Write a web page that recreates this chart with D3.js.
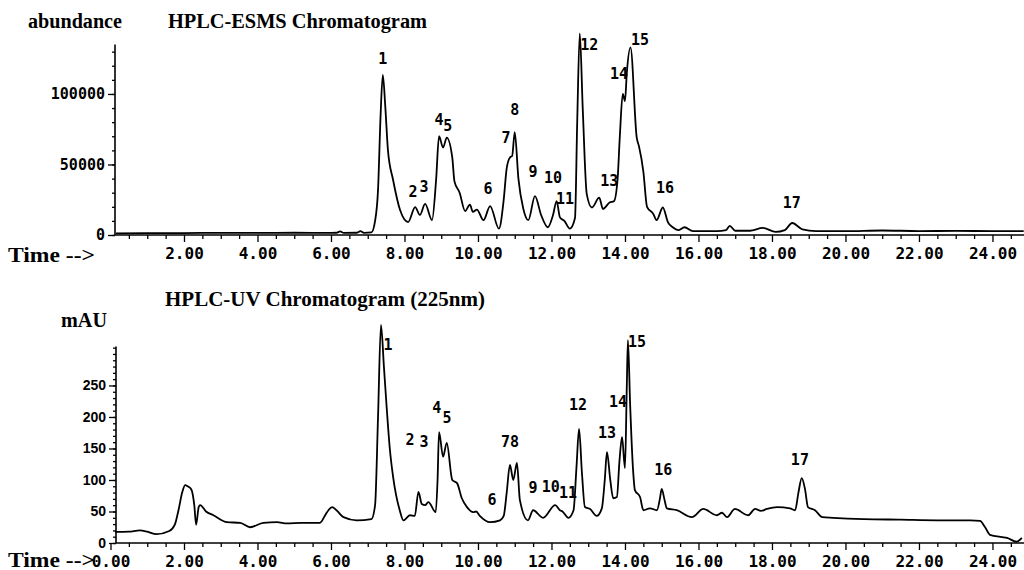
<!DOCTYPE html>
<html>
<head>
<meta charset="utf-8">
<script src="https://cdn.jsdelivr.net/npm/d3@7"></script>
<style>
body { margin: 0; background: #fff; }
</style>
</head>
<body>
<div id="chart"></div>
<script>
const WIDTH = 1024
const HEIGHT = 570

// HPLC-ESMS trace (time in min, abundance)
const msTime = [0.15, 1.0, 2.0, 3.0, 4.0, 5.0, 6.0, 6.15, 6.25, 6.35, 6.7, 6.8, 6.9, 7.1, 7.2, 7.28, 7.35, 7.41, 7.48, 7.55,
  7.69, 7.88, 8.1, 8.29, 8.42, 8.56, 8.75, 8.86, 8.94, 9.05, 9.15, 9.3, 9.36, 9.5, 9.65, 9.78, 9.86, 9.97, 10.15, 10.33,
  10.57, 10.7, 10.78, 10.87, 10.93, 11.0, 11.1, 11.23, 11.37, 11.55, 11.72, 11.9, 12.04, 12.14, 12.23, 12.35, 12.5, 12.64,
  12.7, 12.77, 12.85, 12.96, 13.1, 13.3, 13.4, 13.58, 13.7, 13.8, 13.86, 13.94, 14.0, 14.05, 14.15, 14.32, 14.38, 14.5,
  14.6, 14.77, 14.86, 15.03, 15.17, 15.3, 15.45, 15.62, 15.85, 16.5, 16.75, 16.85, 17.0, 17.4, 17.75, 18.1, 18.35, 18.55,
  18.83, 19.2, 20.0, 21.0, 22.0, 23.0, 24.0, 24.85]
const msAbundance = [1200, 1300, 1400, 1500, 1500, 1600, 1500, 1600, 2500, 1500, 1600, 2800, 1500, 1800, 10000, 32000, 85000, 113500, 90000, 60000,
  39000, 17700, 9200, 19800, 14200, 22000, 10600, 39000, 70000, 62000, 69000, 55000, 38000, 30000, 17000, 21500, 16500, 18000, 10500, 20500,
  4500, 25000, 47000, 55000, 56000, 73000, 40000, 19000, 10500, 27500, 14000, 5500, 14000, 24000, 12500, 10000, 4500, 12000,
  80000, 143000, 90000, 29000, 19500, 26500, 18500, 23000, 24000, 40000, 70000, 100000, 95000, 115000, 133000, 69000, 63000, 45000,
  20000, 15000, 10500, 19500, 9000, 5500, 3500, 5500, 2800, 2800, 3500, 6500, 3000, 3000, 5000, 2200, 3500, 8500,
  4000, 2800, 2700, 3200, 2800, 2900, 2800, 2800]

// HPLC-UV trace (time in min, mAU)
const uvTime = [0.12, 0.5, 0.8, 1.0, 1.25, 1.6, 1.75, 1.85, 1.95, 2.03, 2.1, 2.2, 2.28, 2.33, 2.4, 2.44, 2.6, 2.8, 3.17, 3.53,
  3.8, 4.16, 4.53, 4.8, 5.2, 5.7, 5.85, 5.93, 6.03, 6.15, 6.34, 6.7, 7.1, 7.2, 7.28, 7.36, 7.44, 7.52, 7.6, 7.69,
  7.87, 7.97, 8.15, 8.28, 8.38, 8.47, 8.56, 8.65, 8.85, 8.9, 8.94, 9.05, 9.15, 9.3, 9.43, 9.56, 9.7, 9.87, 9.95, 10.05,
  10.33, 10.6, 10.7, 10.78, 10.87, 10.96, 11.06, 11.14, 11.36, 11.5, 11.77, 12.1, 12.23, 12.3, 12.46, 12.6, 12.68, 12.75, 12.83, 12.91,
  13.05, 13.23, 13.37, 13.45, 13.51, 13.6, 13.68, 13.78, 13.85, 13.92, 14.0, 14.05, 14.08, 14.14, 14.22, 14.27, 14.41, 14.5, 14.68, 14.87,
  14.95, 15.0, 15.07, 15.14, 15.41, 15.82, 16.13, 16.5, 16.64, 16.78, 16.99, 17.35, 17.54, 17.7, 17.86, 18.14, 18.49, 18.63, 18.72, 18.81,
  18.9, 18.98, 19.17, 19.37, 19.66, 20.5, 21.5, 22.5, 23.4, 23.66, 23.8, 23.93, 24.4, 24.66, 24.8]
const uvAbsorbance = [17.5, 18, 20, 18, 14, 19, 29, 52, 80, 92, 90, 85, 60, 29, 57, 60, 50, 44, 33, 32,
  25, 32, 33, 31, 32, 32, 45, 52, 57, 52, 41, 36, 38, 60, 200, 346, 280, 211, 150, 105,
  52, 36, 44, 43, 81, 62, 60, 65, 49, 100, 176, 137, 159, 100, 95, 71, 57, 49, 50, 43,
  33, 36, 43, 79, 124, 100, 127, 68, 36, 52, 40, 60, 52, 50, 40, 52, 120, 181, 110, 57,
  54, 43, 55, 100, 144, 100, 71, 73, 130, 168, 119, 250, 322, 220, 116, 84, 73, 52, 55, 52,
  70, 86, 70, 55, 52, 41, 54, 44, 48, 41, 54, 44, 54, 51, 54, 57, 55, 52, 80, 103,
  85, 57, 52, 41, 40, 38, 37, 36, 36, 35, 25, 13, 8, 2, 8]

// axis ticks
const msTicks = [0, 50000, 100000]
const uvTicks = [0, 50, 100, 150, 200, 250]
const msTimeTicks = [2, 4, 6, 8, 10, 12, 14, 16, 18, 20, 22, 24]
const uvTimeTicks = [0, 2, 4, 6, 8, 10, 12, 14, 16, 18, 20, 22, 24]

// peak numbers: name, time, height of the label
const msPeakNames = ["1", "2", "3", "4", "5", "6", "7", "8", "9", "10", "11", "12", "13", "14", "15", "16", "17"]
const msPeakTime = [7.41, 8.23, 8.53, 8.94, 9.18, 10.27, 10.76, 11.0, 11.5, 12.04, 12.37, 13.03, 13.57, 13.84, 14.41, 15.09, 18.54]
const msPeakValue = [121300, 27000, 30500, 78000, 74000, 29000, 65000, 85000, 41000, 37000, 22000, 131000, 35000, 110600, 134700, 29800, 19000]

const uvPeakNames = ["1", "2", "3", "4", "5", "6", "78", "9", "10", "11", "12", "13", "14", "15", "16", "17"]
const uvPeakTime = [7.55, 8.15, 8.53, 8.88, 9.16, 10.38, 10.87, 11.5, 11.98, 12.45, 12.72, 13.51, 13.81, 14.33, 15.04, 18.76]
const uvPeakValue = [306, 156, 152, 206, 190, 60, 152, 79, 81, 71, 211, 167, 216, 311, 108, 124]

const svg = d3.select("#chart")
    .append("svg")
    .attr("width", WIDTH)
    .attr("height", HEIGHT)
    .style("font-family", "'DejaVu Sans Mono', monospace")

const x = d3.scaleLinear().domain([0, 24.85]).range([110.5, 1023.7])
const yMs = d3.scaleLinear().domain([0, 135000]).range([235, 44.6])
const yUv = d3.scaleLinear().domain([0, 312]).range([543, 346.4])

function drawPanel(y, ticks, minorStep, timeTicks, axisX, times, values, names, pTime, pValue, yFont) {
    const y0 = y(0)
    const g = svg.append("g")

    // minor ticks on y
    g.append("g")
        .attr("transform", `translate(${axisX},0)`)
        .call(d3.axisLeft(y).tickValues(d3.range(0, y.domain()[1], minorStep)).tickSize(3).tickFormat(""))
        .call(a => a.select(".domain").remove())

    g.append("g")
        .attr("transform", `translate(${axisX},0)`)
        .call(d3.axisLeft(y).tickValues(ticks).tickSize(7).tickPadding(3).tickFormat(d3.format("d")))
        .call(a => a.select(".domain").remove())
        .call(a => a.selectAll("text").style("font", yFont))

    // minor ticks on x
    g.append("g")
        .attr("transform", `translate(0,${y0})`)
        .call(d3.axisBottom(x).tickValues(d3.range(0.5, 24.9, 0.5).filter(t => t % 2 != 0)).tickSize(4).tickFormat(""))
        .call(a => a.select(".domain").remove())

    g.append("g")
        .attr("transform", `translate(0,${y0})`)
        .call(d3.axisBottom(x).tickValues(timeTicks).tickSize(7).tickPadding(6).tickFormat(d3.format(".2f")))
        .call(a => a.select(".domain").remove())
        .call(a => a.selectAll("text").style("font", "bold 16px 'DejaVu Sans Mono', monospace"))

    g.selectAll(".tick line").attr("stroke", "#000").attr("stroke-width", 1.3)

    // axis lines
    g.append("line")
        .attr("x1", axisX).attr("x2", axisX)
        .attr("y1", y(y.domain()[1])).attr("y2", y0)
        .attr("stroke", "#000").attr("stroke-width", 1.6)
    g.append("line")
        .attr("x1", axisX).attr("x2", 1024)
        .attr("y1", y0).attr("y2", y0)
        .attr("stroke", "#000").attr("stroke-width", 1.6)

    // peak numbers
    g.selectAll(".peak")
        .data(names)
        .enter()
        .append("text")
        .attr("class", "peak")
        .attr("x", (d, i) => x(pTime[i]))
        .attr("y", (d, i) => y(pValue[i]))
        .attr("text-anchor", "middle")
        .style("font", "bold 15px 'DejaVu Sans Mono', monospace")
        .text(d => d)

    const line = d3.line()
        .x(d => x(d[0]))
        .y(d => y(d[1]))
        .curve(d3.curveMonotoneX)

    g.append("path")
        .datum(times.map((t, i) => [t, values[i]]))
        .attr("d", line)
        .attr("fill", "none")
        .attr("stroke", "#000")
        .attr("stroke-width", 1.8)
        .attr("stroke-linejoin", "round")
}

drawPanel(yMs, msTicks, 10000, msTimeTicks, 115, msTime, msAbundance,
    msPeakNames, msPeakTime, msPeakValue, "bold 15px 'DejaVu Sans Mono', monospace")
drawPanel(yUv, uvTicks, 10, uvTimeTicks, 116, uvTime, uvAbsorbance,
    uvPeakNames, uvPeakTime, uvPeakValue, "bold 14px 'Liberation Sans', Arial, sans-serif")

// titles
const serif = "'Liberation Serif', 'Times New Roman', serif"
function title(tx, ty, str, len) {
    const t = svg.append("text").attr("x", tx).attr("y", ty).text(str)
        .style("font", `bold 20px ${serif}`)
    if (len) t.attr("textLength", len).attr("lengthAdjust", "spacingAndGlyphs")
    return t
}
title(28, 28, "abundance", 94)
title(168, 28, "HPLC-ESMS Chromatogram", 259)
title(8, 262, "Time -->", 87)
title(165, 306, "HPLC-UV Chromatogram (225nm)", 320)
title(61, 327, "mAU", 46)
title(8, 567, "Time -->", 87)
</script>
</body>
</html>
